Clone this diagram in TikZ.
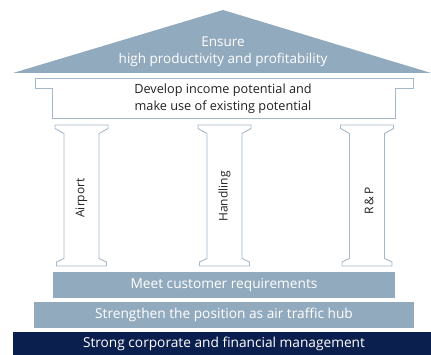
\documentclass[tikz,border=0pt]{standalone}
\usepackage{fontspec}
\setmainfont{Open Sans}
\definecolor{roofblue}{HTML}{92AABE}
\definecolor{lineblue}{HTML}{A3B8CA}
\definecolor{navy}{HTML}{0B1F4E}
\definecolor{txtgray}{HTML}{222222}
\tikzset{
  outline/.style={draw=lineblue, line width=0.9pt, fill=white, line join=miter},
  bartext/.style={text=white, font=\fontsize{13.7}{15}\selectfont},
  darktext/.style={text=txtgray, font=\fontsize{12.7}{17}\selectfont, align=center},
  pillarlabel/.style={text=txtgray, font=\fontsize{12}{14}\selectfont, rotate=90},
  pics/pillar/.style={code={
    \draw[outline] (-26.5,125) -- (26.5,125) -- (26.5,128.5) -- (17.5,133.5) -- (17.5,258.5)
      -- (25,262) -- (25,266) -- (-25,266) -- (-25,262) -- (-17.5,258.5) -- (-17.5,133.5)
      -- (-26.5,128.5) -- cycle;
  }}
}
\begin{document}
\begin{tikzpicture}[x=1pt,y=-1pt]
\useasboundingbox (0,0) rectangle (431,355);
% roof
\fill[roofblue] (13,73) -- (223,10) -- (431,73) -- cycle;
\node[text=white, font=\fontsize{13.5}{17}\selectfont, align=center] (roof) at (223,51.5) {Ensure\\high productivity and profitability};
% lintel
\draw[outline] (35,78) -- (413,78) -- (413,88) -- (395,88) -- (395,118) -- (52,118) -- (52,88) -- (35,88) -- cycle;
\node[darktext] (lintel) at (223,98.5) {Develop income potential and\\make use of existing potential};
% pillars
\pic at (81.5,0) {pillar};
\pic at (224.5,0) {pillar};
\pic at (367,0) {pillar};
\node[pillarlabel] (airport) at (81.5,198) {Airport};
\node[pillarlabel] (handling) at (224.5,196.5) {Handling};
\node[pillarlabel] (rp) at (369,201) {R\,\&\,P};
% bars
\fill[roofblue] (53,272.3) rectangle (395,297.7);
\node[bartext] (meet) at (224,285) {Meet customer requirements};
\fill[roofblue] (34,302.3) rectangle (414,327.7);
\node[bartext] (hub) at (224,315) {Strengthen the position as air traffic hub};
\fill[navy] (13,332.3) rectangle (431,355);
\node[bartext] (strong) at (224,343.7) {Strong corporate and financial management};
\end{tikzpicture}
\end{document}
